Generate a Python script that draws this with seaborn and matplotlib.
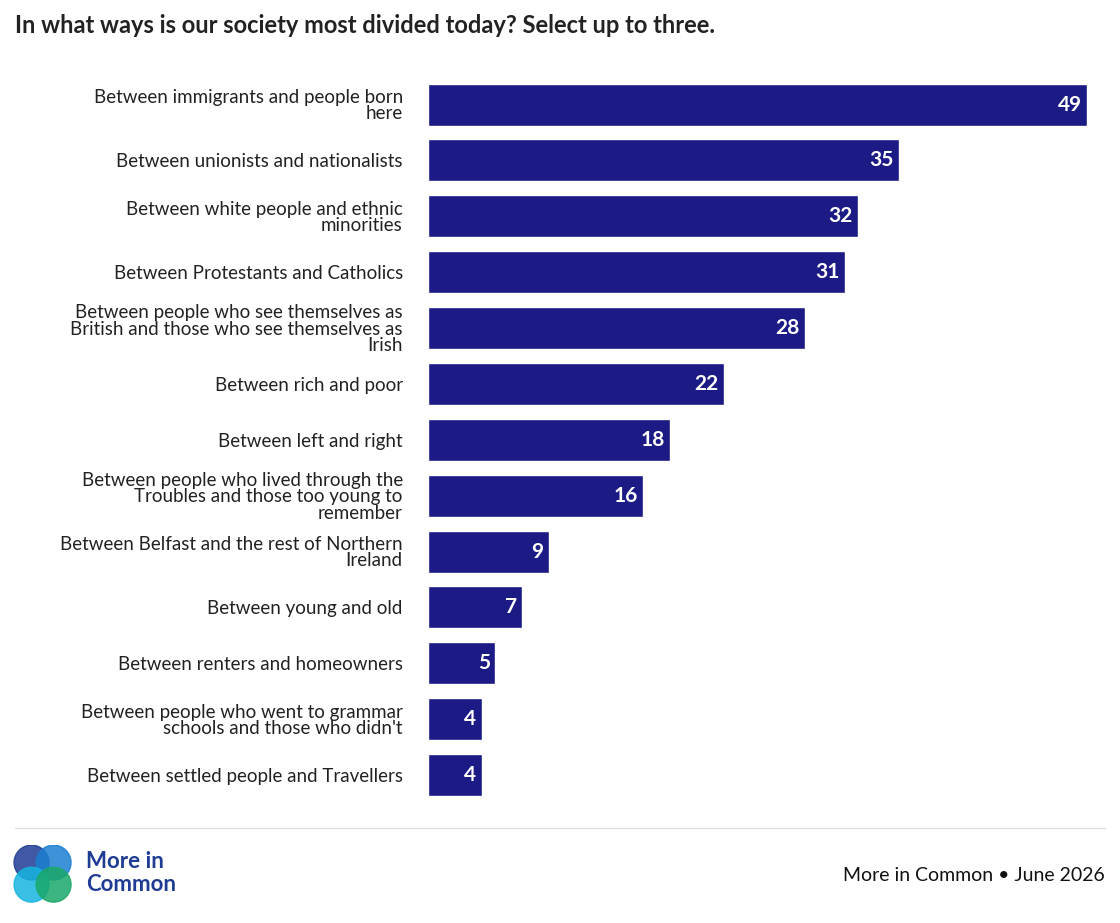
import pandas as pd
import seaborn as sns
from matplotlib import pyplot as plt
from matplotlib.patches import Circle
from matplotlib.lines import Line2D

labels = [
    'Between immigrants and people born\nhere',
    'Between unionists and nationalists',
    'Between white people and ethnic\nminorities',
    'Between Protestants and Catholics',
    'Between people who see themselves as\nBritish and those who see themselves as\nIrish',
    'Between rich and poor',
    'Between left and right',
    'Between people who lived through the\nTroubles and those too young to\nremember',
    'Between Belfast and the rest of Northern\nIreland',
    'Between young and old',
    'Between renters and homeowners',
    "Between people who went to grammar\nschools and those who didn't",
    'Between settled people and Travellers',
]
values = [49, 35, 32, 31, 28, 22, 18, 16, 9, 7, 5, 4, 4]

df = pd.DataFrame({'label': labels, 'value': values})

sns.set_style('white')
plt.rcParams['font.family'] = ['Lato', 'DejaVu Sans']

fig = plt.figure(figsize=(11.2, 9.23), dpi=100)
ax = fig.add_axes([0.382, 0.13, 0.591, 0.787])
sns.barplot(data=df, x='value', y='label', color='#1c1a85', saturation=1, width=0.75, ax=ax)
ax.set_xlim(0, 49.2)
ax.set_xlabel('')
ax.set_ylabel('')
ax.set_xticks([])
ax.tick_params(axis='y', length=0, pad=18, labelsize=13.5, labelcolor='#222222')
for lab in ax.get_yticklabels():
    lab.set_multialignment('right')
    lab.set_linespacing(0.95)
sns.despine(ax=ax, left=True, bottom=True)

for i, v in enumerate(values):
    ax.text(v - 0.4, i, str(v), ha='right', va='center', color='white', fontsize=15, fontweight='bold')

fig.text(0.013, 0.972, 'In what ways is our society most divided today? Select up to three.',
         fontsize=17, fontweight='bold', color='#222222', va='center')
fig.add_artist(Line2D([0.013, 0.987], [0.103, 0.103], color='#dddddd', lw=1))
fig.text(0.986, 0.052, 'More in Common \u2022 June 2026', ha='right', va='center', fontsize=14, color='#111111')
fig.text(0.077, 0.067, 'More in', fontsize=16, fontweight='bold', color='#1f3c94', va='center')
fig.text(0.077, 0.042, 'Common', fontsize=16, fontweight='bold', color='#1f3c94', va='center')

lax = fig.add_axes([0.012, 0.022, 0.052, 0.063])
lax.set_xlim(0, 2)
lax.set_ylim(0, 2)
lax.set_aspect('equal')
lax.axis('off')
for (cx, cy, c) in [(0.62, 1.38, '#1f3c94'), (1.38, 1.38, '#1c7fd0'), (0.62, 0.62, '#16b4e0'), (1.38, 0.62, '#1aa86a')]:
    lax.add_patch(Circle((cx, cy), 0.6, color=c, alpha=0.85))

fig.savefig('out.png', dpi=100)
